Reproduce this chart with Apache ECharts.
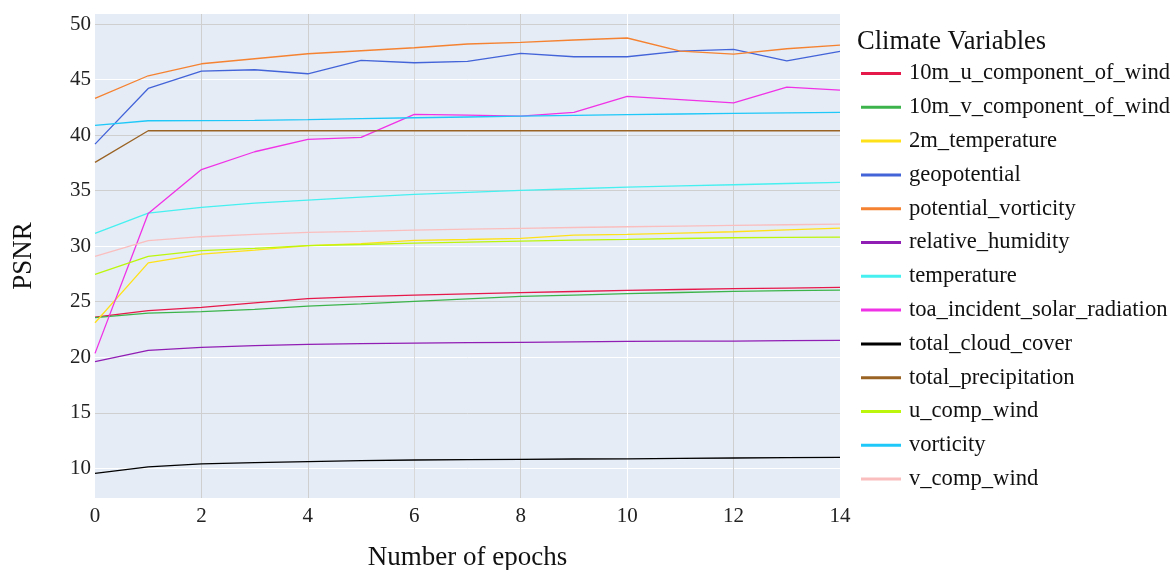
<!DOCTYPE html>
<html>
<head>
<meta charset="utf-8">
<script src="https://cdn.jsdelivr.net/npm/echarts@6/dist/echarts.min.js"></script>
<style>
  html, body { margin: 0; padding: 0; background: #fff; }
  #chart { width: 1174px; height: 570px; }
</style>
</head>
<body>
<div id="chart"></div>
<script>
// Training epochs on the x axis
const epochs = [0, 1, 2, 3, 4, 5, 6, 7, 8, 9, 10, 11, 12, 13, 14];

// PSNR per climate variable, one value per epoch
const variableNames = [
  '10m_u_component_of_wind', '10m_v_component_of_wind', '2m_temperature',
  'geopotential', 'potential_vorticity', 'relative_humidity', 'temperature',
  'toa_incident_solar_radiation', 'total_cloud_cover', 'total_precipitation',
  'u_comp_wind', 'vorticity', 'v_comp_wind'
];
const u10 = [23.62, 24.19, 24.49, 24.90, 25.27, 25.45, 25.60, 25.71, 25.81, 25.92, 26.02, 26.10, 26.17, 26.23, 26.29];
const v10 = [23.56, 23.98, 24.10, 24.31, 24.60, 24.81, 25.03, 25.26, 25.48, 25.60, 25.72, 25.83, 25.93, 25.99, 26.05];
const t2m = [23.11, 28.50, 29.29, 29.65, 30.04, 30.22, 30.52, 30.60, 30.70, 31.00, 31.06, 31.18, 31.30, 31.46, 31.63];
const geopotential = [39.19, 44.20, 45.76, 45.88, 45.52, 46.72, 46.51, 46.63, 47.35, 47.05, 47.05, 47.56, 47.71, 46.69, 47.53];
const potentialVorticity = [43.30, 45.34, 46.42, 46.87, 47.32, 47.59, 47.86, 48.20, 48.35, 48.56, 48.74, 47.56, 47.29, 47.77, 48.10];
const relativeHumidity = [19.60, 20.62, 20.89, 21.04, 21.16, 21.22, 21.28, 21.31, 21.34, 21.39, 21.43, 21.45, 21.46, 21.49, 21.52];
const temperature = [31.15, 32.98, 33.49, 33.88, 34.15, 34.42, 34.66, 34.85, 35.02, 35.17, 35.32, 35.43, 35.53, 35.64, 35.74];
const toaRadiation = [20.35, 32.95, 36.90, 38.50, 39.61, 39.79, 41.86, 41.80, 41.71, 42.04, 43.48, 43.20, 42.90, 44.32, 44.05];
const cloudCover = [9.55, 10.14, 10.41, 10.51, 10.60, 10.69, 10.75, 10.78, 10.81, 10.84, 10.86, 10.90, 10.93, 10.96, 10.99];
const precipitation = [37.54, 40.39, 40.39, 40.39, 40.39, 40.39, 40.39, 40.39, 40.39, 40.39, 40.39, 40.39, 40.39, 40.39, 40.39];
const uCompWind = [27.46, 29.08, 29.59, 29.80, 30.04, 30.15, 30.28, 30.37, 30.46, 30.54, 30.61, 30.69, 30.76, 30.79, 30.82];
const vorticity = [40.87, 41.29, 41.30, 41.33, 41.40, 41.48, 41.56, 41.63, 41.70, 41.78, 41.85, 41.90, 41.95, 42.00, 42.04];
const vCompWind = [29.08, 30.49, 30.85, 31.06, 31.24, 31.33, 31.45, 31.53, 31.60, 31.68, 31.75, 31.81, 31.87, 31.93, 31.99];

const variableValues = [u10, v10, t2m, geopotential, potentialVorticity, relativeHumidity,
  temperature, toaRadiation, cloudCover, precipitation, uCompWind, vorticity, vCompWind];

const variableColors = ['#e6194b', '#3cb44b', '#ffe119', '#4363d8', '#f58231', '#911eb4',
  '#46f0f0', '#f032e6', '#000000', '#9a6324', '#bcf60c', '#1ec8f8', '#fabebe'];

const xTicks = [0, 2, 4, 6, 8, 10, 12, 14];
const yTicks = [10, 15, 20, 25, 30, 35, 40, 45, 50];

const FONT = 'Liberation Serif';

const series = variableNames.map((name, k) => ({
  name: name,
  type: 'line',
  data: epochs.map((e, i) => [e, variableValues[k][i]]),
  showSymbol: false,
  symbol: 'none',
  lineStyle: { width: 1.3, color: variableColors[k] },
  itemStyle: { color: variableColors[k] },
  emphasis: { disabled: true },
  animation: false
}));

const chart = echarts.init(document.getElementById('chart'), null, { renderer: 'canvas' });
chart.setOption({
  animation: false,
  backgroundColor: '#ffffff',
  title: {
    text: 'Climate Variables',
    left: 857,
    top: 29,
    padding: 0,
    textStyle: { fontFamily: FONT, fontSize: 26.5, fontWeight: 'normal', color: '#111' }
  },
  legend: {
    orient: 'vertical',
    left: 861,
    top: 62,
    icon: 'rect',
    itemWidth: 40,
    itemHeight: 3,
    itemGap: 10.8,
    padding: 0,
    textStyle: { fontFamily: FONT, fontSize: 22.6, color: '#111', padding: [0, 0, 0, 3] },
    data: variableNames
  },
  grid: {
    left: 95, right: 334, top: 14, bottom: 72,
    outerBoundsMode: 'none',
    containLabel: false,
    show: true, backgroundColor: '#e5ecf6', borderWidth: 0
  },
  xAxis: {
    type: 'value',
    min: xTicks[0],
    max: xTicks[xTicks.length - 1],
    interval: 2,
    name: 'Number of epochs',
    nameLocation: 'middle',
    nameGap: 46,
    nameTextStyle: { fontFamily: FONT, fontSize: 27, color: '#111' },
    axisLine: { show: false },
    axisTick: { show: false },
    axisLabel: { fontFamily: FONT, fontSize: 21, color: '#222', margin: 8 },
    splitLine: {
      show: true,
      showMinLine: false,
      showMaxLine: false,
      lineStyle: { width: 1, color: ['#cfcfcf', '#cfcfcf', '#d8d8d8', '#cfcfcf', '#ffffff', '#cfcfcf'] }
    }
  },
  yAxis: {
    type: 'value',
    min: 7.33,
    max: 50.9,
    minInterval: 5,
    maxInterval: 5,
    splitNumber: 9,
    name: 'PSNR',
    nameLocation: 'middle',
    nameGap: 58,
    nameTextStyle: { fontFamily: FONT, fontSize: 27, color: '#111' },
    axisLine: { show: false },
    axisTick: { show: false },
    axisLabel: {
      fontFamily: FONT, fontSize: 21, color: '#222', margin: 4,
      showMinLabel: false, showMaxLabel: false,
      formatter: v => (yTicks.indexOf(v) >= 0 ? String(v) : '')
    },
    splitLine: {
      show: true,
      showMinLine: false,
      showMaxLine: false,
      lineStyle: { width: 1, color: ['#ffffff', '#cfcfcf', '#ffffff', '#cfcfcf', '#ffffff', '#cfcfcf', '#cfcfcf', '#ffffff', '#cfcfcf'] }
    }
  },
  series: series
});
</script>
</body>
</html>
